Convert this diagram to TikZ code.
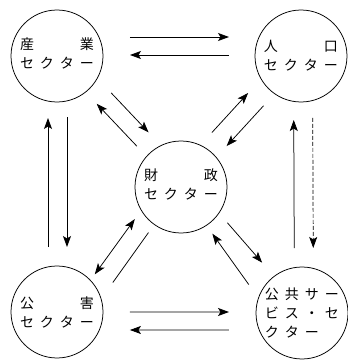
\documentclass[tikz,border=0pt]{standalone}
\usepackage{fontspec}
\setmainfont{Noto Sans CJK JP}
\usetikzlibrary{arrows.meta,calc}

% a row of glyphs spread over the common label width
\newcommand\spreadrow[1]{\makebox[74pt]{#1}}
% connector between two sectors, offset sideways from the line of centres
% #2 = from, #3 = to, #4 = offset at the start, #5 = offset at the end
\newcommand\sectorlink[5][]{\draw[#1] ($(#2)!#4!90:(#3)$) -- ($(#3)!#5!-90:(#2)$);}

\begin{document}
\begin{tikzpicture}[x=1pt,y=1pt,
  sector/.style={circle, draw, line width=0.75pt, minimum size=92pt,
    inner sep=0pt, outer sep=0pt, align=center,
    font=\fontsize{14}{19}\selectfont},
  flow/.style={line width=0.75pt, -{Stealth[length=11pt,width=8pt,inset=2.5pt]}},
  bothflow/.style={line width=0.75pt,
    {Stealth[length=11pt,width=8pt,inset=2.5pt]}-{Stealth[length=11pt,width=8pt,inset=2.5pt]}},
  plainflow/.style={line width=0.75pt},
  dashflow/.style={flow, line width=0.7pt, dash pattern=on 4pt off 2pt}]

\useasboundingbox (0,0) rectangle (348,360);

% sectors
\node[sector] (ind) at (57,304)
  {\spreadrow{産\hfill 業}\\ \spreadrow{セ\hfill ク\hfill タ\hfill ー}\\[-13pt]};
\node[sector] (pop) at (301,304)
  {\spreadrow{人\hfill 口}\\ \spreadrow{セ\hfill ク\hfill タ\hfill ー}};
\node[sector] (fin) at (181,173)
  {\spreadrow{財\hfill 政}\\ \spreadrow{セ\hfill ク\hfill タ\hfill ー}\\[-13pt]};
\node[sector] (pol) at (57,48)
  {\spreadrow{公\hfill 害}\\ \spreadrow{セ\hfill ク\hfill タ\hfill ー}};
\node[sector] (pub) at (302,47)
  {\spreadrow{公\hfill 共\hfill サ\hfill ー}\\
   \spreadrow{ビ\hfill ス\hfill ・\hfill セ}\\
   \makebox[74pt][l]{\makebox[54pt]{ク\hfill タ\hfill ー}}};

% industry <-> population
\sectorlink[flow, shorten <=73pt, shorten >=72pt]{ind}{pop}{19pt}{19pt}
\sectorlink[flow, shorten <=72pt, shorten >=73pt]{pop}{ind}{-1pt}{-1pt}

% industry <-> pollution
\sectorlink[flow, shorten <=61pt, shorten >=65pt]{ind}{pol}{10pt}{10pt}
\sectorlink[flow, shorten <=65pt, shorten >=62pt]{pol}{ind}{9pt}{9pt}

% population <-> public services
\sectorlink[dashflow, shorten <=62pt, shorten >=65pt]{pop}{pub}{11.5pt}{11.5pt}
\sectorlink[flow, shorten <=65pt, shorten >=64pt]{pub}{pop}{7.5pt}{7.5pt}

% pollution <-> public services
\sectorlink[flow, shorten <=73pt, shorten >=73pt]{pol}{pub}{0pt}{1pt}
\sectorlink[flow, shorten <=73pt, shorten >=73pt]{pub}{pol}{17pt}{18pt}

% finance <-> the four outer sectors
\sectorlink[flow, shorten <=64pt, shorten >=62pt]{ind}{fin}{14pt}{14pt}
\sectorlink[flow, shorten <=60pt, shorten >=62pt]{fin}{ind}{4pt}{4pt}

\sectorlink[flow, shorten <=62pt, shorten >=61pt]{pop}{fin}{6pt}{6pt}
\sectorlink[flow, shorten <=61pt, shorten >=63pt]{fin}{pop}{14pt}{14pt}

\sectorlink[bothflow, shorten <=54pt, shorten >=56pt]{pol}{fin}{-8.6pt}{18.8pt}
\sectorlink[plainflow, shorten <=56pt, shorten >=61pt]{fin}{pol}{0pt}{28.7pt}

\sectorlink[flow, shorten <=58pt, shorten >=56pt]{pub}{fin}{27pt}{1.7pt}
\sectorlink[flow, shorten <=58pt, shorten >=64pt]{fin}{pub}{11.5pt}{3pt}

\end{tikzpicture}
\end{document}
